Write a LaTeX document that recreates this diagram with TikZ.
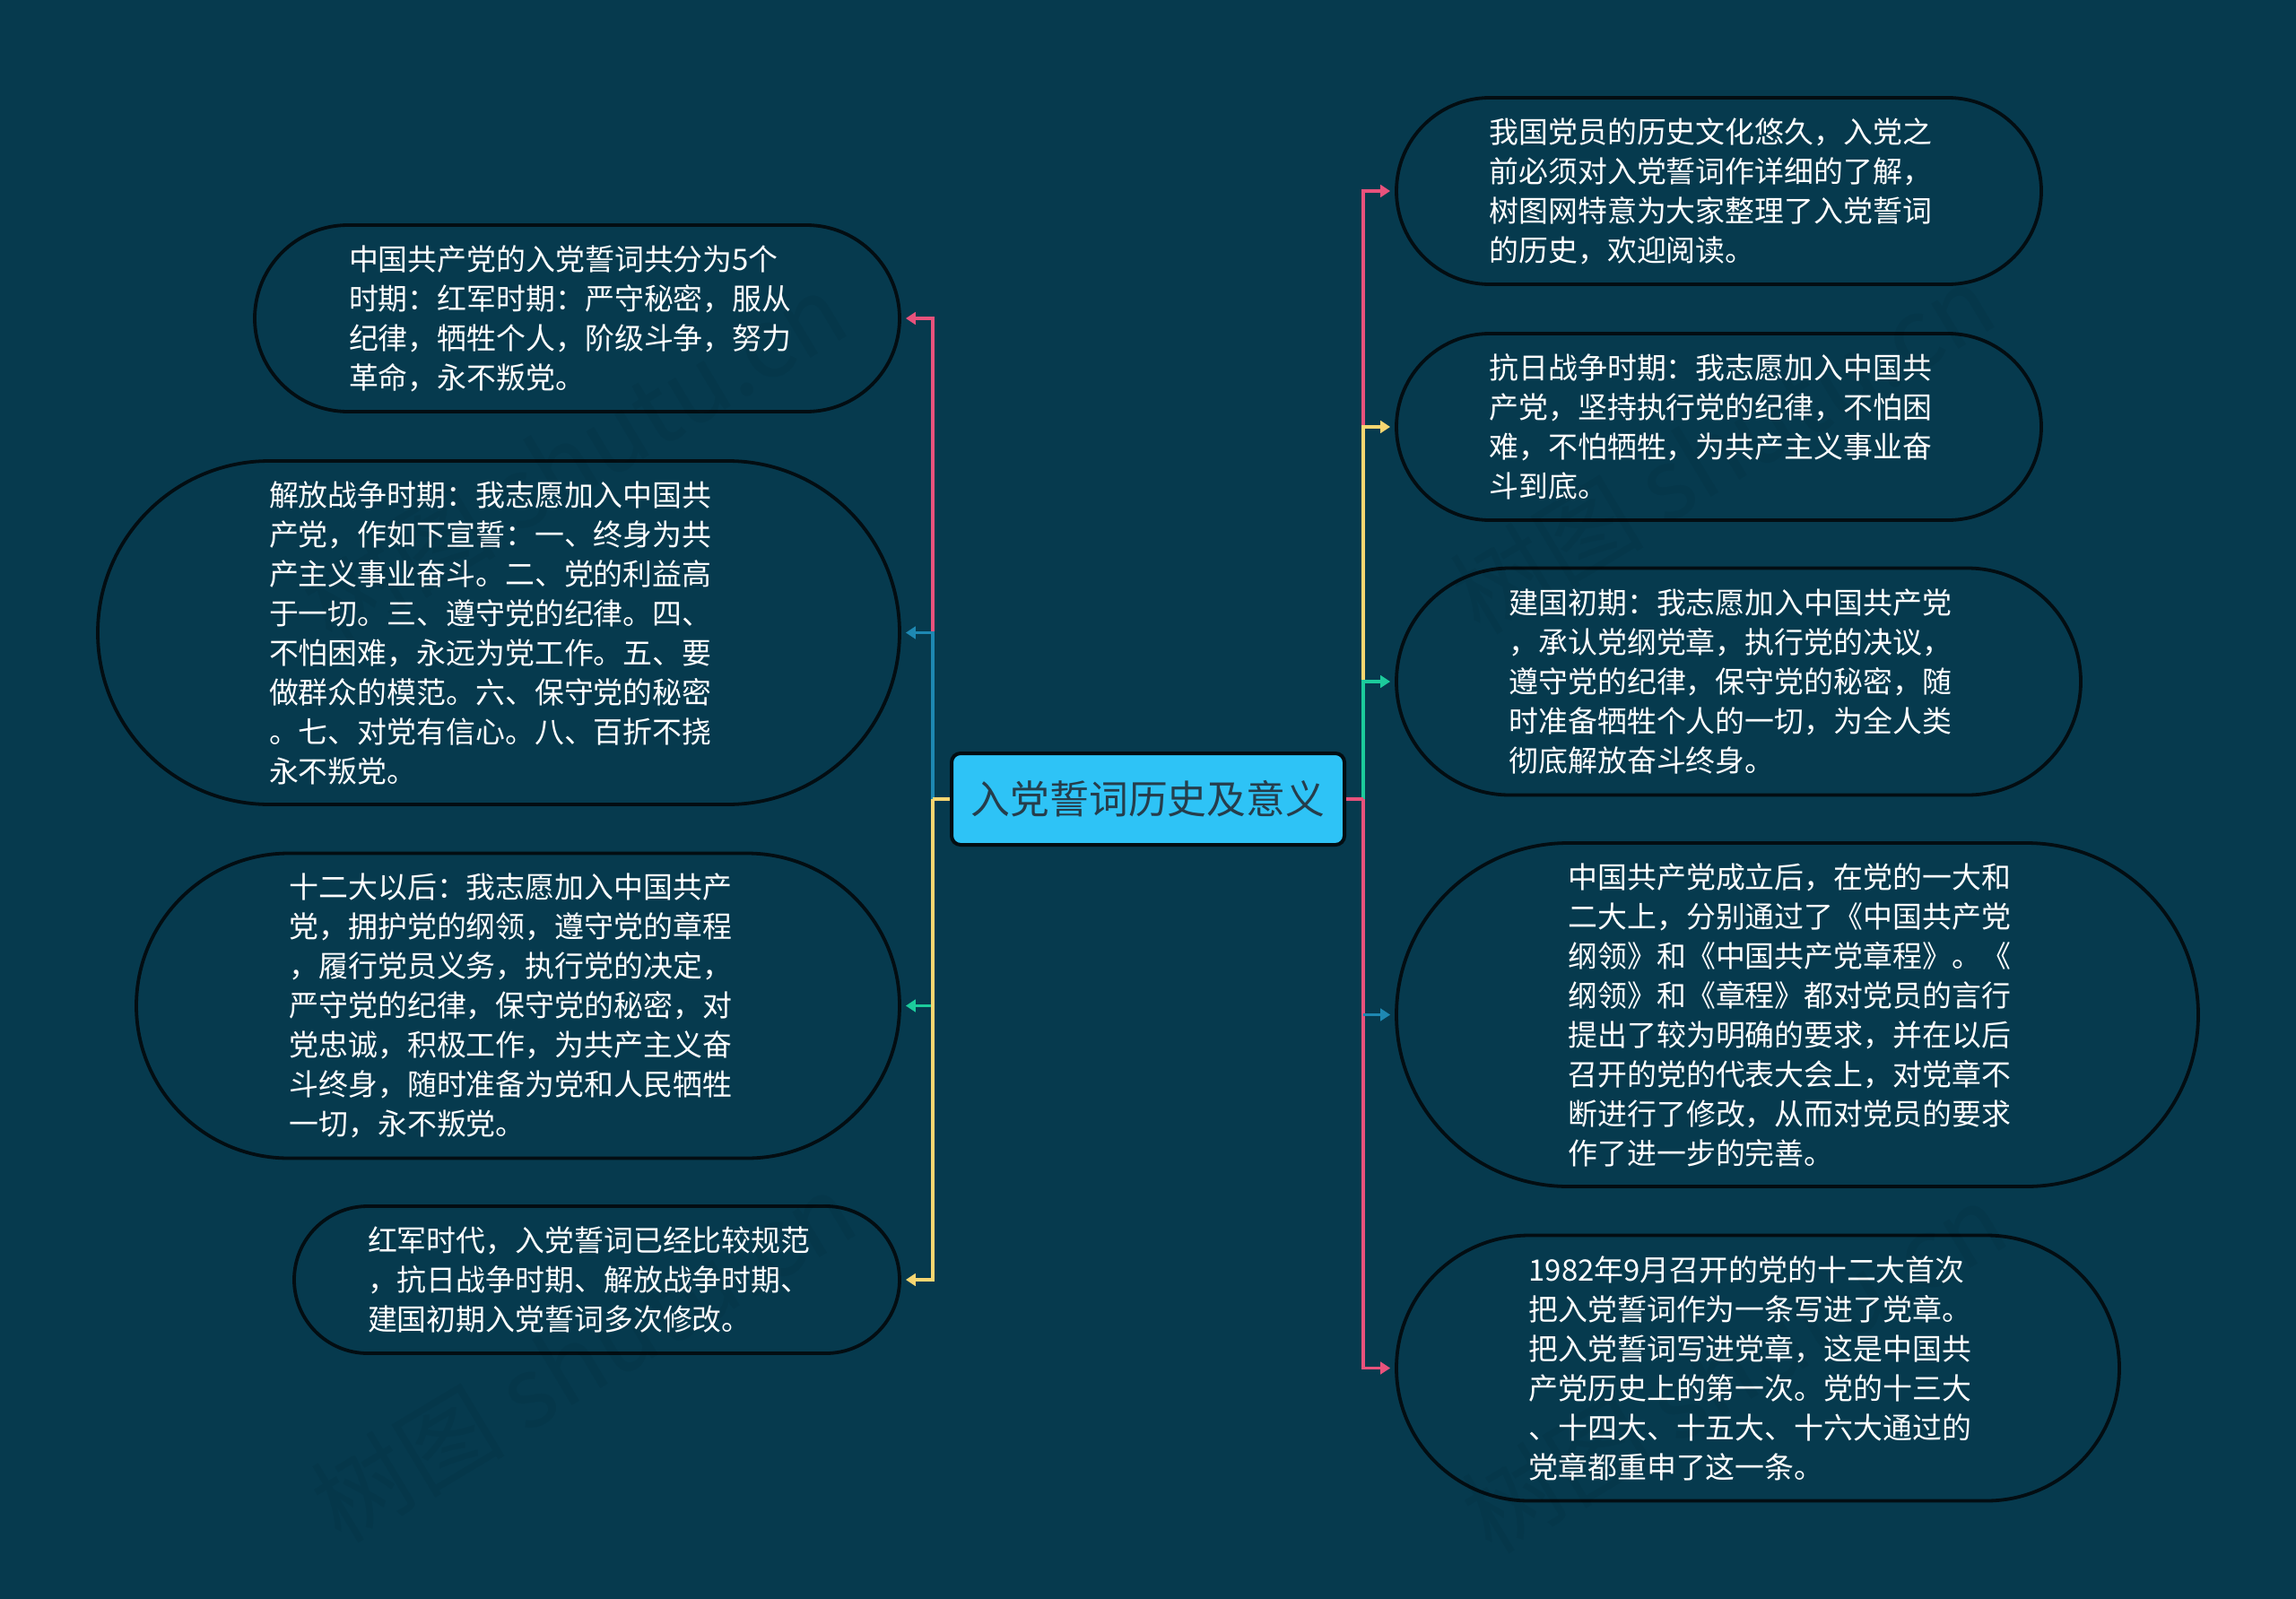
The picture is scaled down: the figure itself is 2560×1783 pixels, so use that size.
\documentclass[tikz,border=0pt]{standalone}
\usepackage{fontspec}
\setmainfont{Noto Sans CJK SC}
\usetikzlibrary{arrows.meta}
\definecolor{bgc}{HTML}{063A4E}
\definecolor{rootc}{HTML}{2EC3F6}
\definecolor{roottext}{HTML}{263D4B}
\definecolor{pinkc}{HTML}{E8527C}
\definecolor{yellowc}{HTML}{F7D671}
\definecolor{greenc}{HTML}{1CCB9C}
\definecolor{bluec}{HTML}{1E88B2}
\definecolor{edgec}{HTML}{030D12}
\newlength{\pxu}
\setlength{\pxu}{0.5pt}
\newcommand{\ptxt}[2]{\hbox to 0pt{\hskip#1\pxu\parbox[c]{300pt}{\fontsize{16.45pt}{22pt}\selectfont\color{white}\raggedright #2}\hss}}
\tikzset{
  x=0.5pt,y=-0.5pt,
  pill/.style n args={2}{draw=edgec,line width=1.9pt,fill=bgc,inner sep=0pt,minimum width=#1*0.5pt,minimum height=#2*0.5pt,rounded corners=#2*0.25pt,rectangle},
  rootbox/.style={draw=edgec,line width=2pt,fill=rootc,rounded corners=5pt,inner sep=0pt,minimum width=219pt,minimum height=51pt,text=roottext,font=\fontsize{21.9pt}{26pt}\selectfont},
  link/.style={line width=1.6pt,-{Triangle[length=5.5pt,width=6.8pt]},shorten >=2.5pt},
  stub/.style={line width=1.6pt},
  wmark/.style={text=black,text opacity=0.05,rotate=31,font=\fontsize{54pt}{60pt}\selectfont,inner sep=0pt},
}
\begin{document}
\begin{tikzpicture}
\useasboundingbox[fill=bgc] (0,0) rectangle (2560,1783);
\coordinate (busL) at (1040,891);
\coordinate (busR) at (1520,891);
\node[rootbox] (root) at (1280,891) {入党誓词历史及意义};
\node[pill={719}{208}] (L1) at (643.5,355) {\ptxt{-254.5}{中国共产党的入党誓词共分为5个\\时期：红军时期：严守秘密，服从\\纪律，牺牲个人，阶级斗争，努力\\革命，永不叛党。}};
\node[pill={894}{383}] (L2) at (556,705.5) {\ptxt{-256}{解放战争时期：我志愿加入中国共\\产党，作如下宣誓：一、终身为共\\产主义事业奋斗。二、党的利益高\\于一切。三、遵守党的纪律。四、\\不怕困难，永远为党工作。五、要\\做群众的模范。六、保守党的秘密\\。七、对党有信心。八、百折不挠\\永不叛党。}};
\node[pill={851}{340}] (L3) at (577.5,1121.5) {\ptxt{-255}{十二大以后：我志愿加入中国共产\\党，拥护党的纲领，遵守党的章程\\，履行党员义务，执行党的决定，\\严守党的纪律，保守党的秘密，对\\党忠诚，积极工作，为共产主义奋\\斗终身，随时准备为党和人民牺牲\\一切，永不叛党。}};
\node[pill={675}{164}] (L4) at (665.5,1427) {\ptxt{-255.5}{红军时代，入党誓词已经比较规范\\，抗日战争时期、解放战争时期、\\建国初期入党誓词多次修改。}};
\node[pill={719}{208}] (R1) at (1916.5,213) {\ptxt{-256}{我国党员的历史文化悠久，入党之\\前必须对入党誓词作详细的了解，\\树图网特意为大家整理了入党誓词\\的历史，欢迎阅读。}};
\node[pill={719}{208}] (R2) at (1916.5,476) {\ptxt{-256}{抗日战争时期：我志愿加入中国共\\产党，坚持执行党的纪律，不怕困\\难，不怕牺牲，为共产主义事业奋\\斗到底。}};
\node[pill={763}{253}] (R3) at (1938.5,760) {\ptxt{-256}{建国初期：我志愿加入中国共产党\\，承认党纲党章，执行党的决议，\\遵守党的纪律，保守党的秘密，随\\时准备牺牲个人的一切，为全人类\\彻底解放奋斗终身。}};
\node[pill={894}{383}] (R4) at (2004,1131.5) {\ptxt{-255.5}{中国共产党成立后，在党的一大和\\二大上，分别通过了《中国共产党\\纲领》和《中国共产党章程》。《\\纲领》和《章程》都对党员的言行\\提出了较为明确的要求，并在以后\\召开的党的代表大会上，对党章不\\断进行了修改，从而对党员的要求\\作了进一步的完善。}};
\node[pill={806}{296}] (R5) at (1960,1525.5) {\ptxt{-255.5}{1982年9月召开的党的十二大首次\\把入党誓词作为一条写进了党章。\\把入党誓词写进党章，这是中国共\\产党历史上的第一次。党的十三大\\、十四大、十五大、十六大通过的\\党章都重申了这一条。}};
% left bus
\draw[link,pinkc] (busL |- L2.east) |- (L1.east);
\draw[link,bluec] (busL) |- (L2.east);
\draw[link,greenc] (busL |- L3.east) -- (L3.east);
\draw[link,yellowc] (busL) |- (L4.east);
\draw[stub,yellowc] (root.west) -- (busL);
% right bus
\draw[link,pinkc] (busR |- R2.west) |- (R1.west);
\draw[link,yellowc] (busR |- R3.west) |- (R2.west);
\draw[link,greenc] (busR) |- (R3.west);
\draw[link,pinkc] (busR) |- (R5.west);
\draw[link,bluec] (busR |- R4.west) -- (R4.west);
\draw[stub,pinkc] (root.east) -- (busR);
% watermarks
\node[wmark] (w1) at (640,510) {树图 shutu.cn};
\node[wmark] (w2) at (1920,500) {树图 shutu.cn};
\node[wmark] (w3) at (650,1513) {树图 shutu.cn};
\node[wmark] (w4) at (1933,1525) {树图 shutu.cn};
\end{tikzpicture}
\end{document}
